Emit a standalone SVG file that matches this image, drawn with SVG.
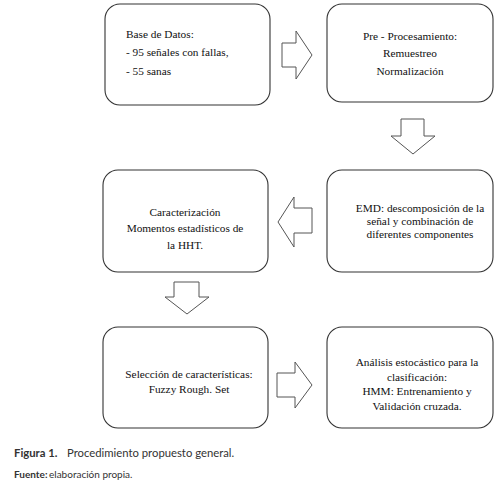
<svg xmlns="http://www.w3.org/2000/svg" width="499" height="491" viewBox="0 0 499 491">
<style>
.box{fill:#fff;stroke:#333;stroke-width:1.1}
.t{font-family:"Liberation Serif","Times New Roman",serif;font-size:11.3px;fill:#111}
.c{text-anchor:middle}
.arr{fill:#fff;stroke:#555;stroke-width:1}
.cap{font-family:Lato,"Open Sans",sans-serif;fill:#333}
</style>
<rect width="499" height="491" fill="#fff"/>
<g id="connectors">
<polygon class="arr" points="282,43 296,43 296,31 312,55 296,79 296,67 282,67"/>
<polygon class="arr" points="401,119 424,119 424,136 435,136 413,154 391,136 401,136"/>
<polygon class="arr" points="312,208 294,208 294,197 278,222 294,247 294,233 312,233"/>
<polygon class="arr" points="174,282 199,282 199,297 209,297 187,314 165,297 174,297"/>
<polygon class="arr" points="277,373 295,373 295,362 312,385 295,408 295,397 277,397"/>
</g>
<g id="n1">
<rect class="box" x="105" y="4" width="165" height="101" rx="15"/>
<text class="t" x="126" y="38">Base de Datos:</text>
<text class="t" x="126" y="56">- 95 señales con fallas,</text>
<text class="t" x="126" y="75">- 55 sanas</text>
</g>
<g id="n2">
<rect class="box" x="327" y="4" width="166" height="98" rx="15"/>
<text class="t c" x="410" y="40">Pre - Procesamiento:</text>
<text class="t c" x="410" y="57">Remuestreo</text>
<text class="t c" x="410" y="75">Normalización</text>
</g>
<g id="n3">
<rect class="box" x="103" y="170" width="165" height="102" rx="15"/>
<text class="t c" x="185" y="216">Caracterización</text>
<text class="t c" x="185" y="232">Momentos estadísticos de</text>
<text class="t c" x="185" y="249">la HHT.</text>
</g>
<g id="n4">
<rect class="box" x="327" y="170" width="166" height="102" rx="15"/>
<text class="t c" x="420" y="212">EMD: descomposición de la</text>
<text class="t c" x="420" y="225">señal y combinación de</text>
<text class="t c" x="420" y="238">diferentes componentes</text>
</g>
<g id="n5">
<rect class="box" x="103" y="327" width="165" height="101" rx="15"/>
<text class="t c" x="189" y="378">Selección de características:</text>
<text class="t c" x="189" y="393">Fuzzy Rough. Set</text>
</g>
<g id="n6">
<rect class="box" x="327" y="327" width="166" height="101" rx="15"/>
<text class="t c" x="417" y="366">Análisis estocástico para la</text>
<text class="t c" x="417" y="381">clasificación:</text>
<text class="t c" x="417" y="395">HMM: Entrenamiento y</text>
<text class="t c" x="417" y="410">Validación cruzada.</text>
</g>
<text class="cap" x="14" y="457" font-size="11.3" font-weight="bold" fill="#222">Figura 1.</text>
<text class="cap" x="67" y="457" font-size="11.3">Procedimiento propuesto general.</text>
<text class="cap" x="14" y="478" font-size="10" font-weight="bold" fill="#222">Fuente:</text>
<text class="cap" x="49" y="478" font-size="10">elaboración propia.</text>
</svg>
